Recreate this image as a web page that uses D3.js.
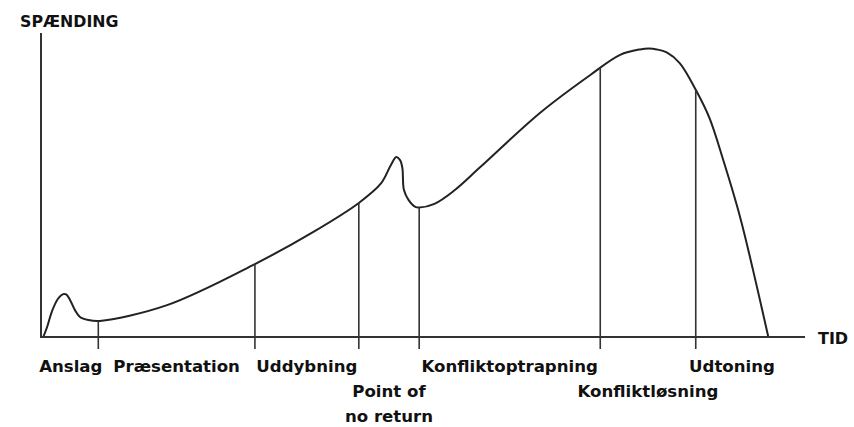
<!DOCTYPE html>
<meta charset="utf-8">
<script src="https://d3js.org/d3.v7.min.js"></script>
<style>
  body { margin: 0; background: #fff; }
  text { font-family: "DejaVu Sans", sans-serif; font-weight: bold; fill: #111; }
</style>
<div id="chart"></div>
<script>
// curve: time (0-100) and tension (0-100)
var curveTime = [0.3, 0.8, 1.4, 2.2, 2.9, 3.3, 3.8, 4.5, 5.1, 6.2, 7.7, 16.5, 28.0, 35.6, 41.6, 44.5, 45.8, 46.5, 47.0, 47.3, 47.5, 48.1, 49.0, 49.5, 51.5, 54.0, 57.5, 65.3, 71.9, 75.8, 78.4, 79.6, 80.6, 81.9, 83.6, 85.7, 87.5, 89.3, 91.5, 93.2, 95.2];
var curveTension = [0, 3.3, 8.2, 12.5, 14.1, 14.0, 12.2, 8.6, 6.6, 5.6, 5.3, 10.5, 24.0, 34.5, 44.1, 50.5, 56.6, 59.2, 58.2, 55.6, 48.4, 45.1, 42.8, 42.6, 43.8, 48.0, 55.9, 73.7, 86.2, 92.8, 94.6, 94.9, 94.6, 93.6, 90.1, 81.3, 72.0, 58.2, 39.5, 22.0, 0];

// phase boundaries (time) - first and last are start and end of the curve
var bounds = [0.3, 7.5, 28.0, 41.6, 49.5, 73.2, 85.7, 95.2];
var phases = ["Anslag", "Præsentation", "Uddybning", "Point of\nno return", "Konfliktoptrapning", "Konfliktløsning", "Udtoning"];
var yLabel = "SPÆNDING";
var xLabel = "TID";

var W = 854, H = 427;
var x0 = 41, x1 = 805, yTop = 33, yAxis = 337;

var svg = d3.select("#chart").append("svg")
  .attr("width", W)
  .attr("height", H);

var x = d3.scaleLinear().domain([0, 100]).range([x0, x1]);
var y = d3.scaleLinear().domain([0, 100]).range([yAxis, yTop]);

var pts = curveTime.map(function(t, i) { return [t, curveTension[i]]; });

var line = d3.line()
  .x(function(d) { return x(d[0]); })
  .y(function(d) { return y(d[1]); })
  .curve(d3.curveCatmullRom.alpha(0.5));

var path = svg.append("path")
  .datum(pts)
  .attr("d", line)
  .attr("fill", "none")
  .attr("stroke", "#222")
  .attr("stroke-width", 2);

// find the curve's y at a given pixel x
function curveY(px) {
  var node = path.node(), len = node.getTotalLength();
  var lo = 0, hi = len;
  for (var k = 0; k < 40; k++) {
    var mid = (lo + hi) / 2;
    if (node.getPointAtLength(mid).x < px) lo = mid; else hi = mid;
  }
  return node.getPointAtLength((lo + hi) / 2).y;
}

// axes
svg.append("line")
  .attr("x1", x(0)).attr("x2", x(0))
  .attr("y1", y(100)).attr("y2", y(0) + 1)
  .attr("stroke", "#333").attr("stroke-width", 2);
svg.append("line")
  .attr("x1", x(0)).attr("x2", x(100))
  .attr("y1", y(0)).attr("y2", y(0))
  .attr("stroke", "#333").attr("stroke-width", 2);

// phase divider lines
bounds.slice(1, -1).forEach(function(b) {
  var px = x(b);
  svg.append("line")
    .attr("x1", px).attr("x2", px)
    .attr("y1", curveY(px)).attr("y2", y(0) + 12)
    .attr("stroke", "#333").attr("stroke-width", 1.6);
});

// phase labels, centred between boundaries; some drop a row
var drop = {3: 1, 5: 1};
phases.forEach(function(name, i) {
  var cx = x((bounds[i] + bounds[i + 1]) / 2);
  var row = drop[i] || 0;
  var t = svg.append("text")
    .attr("text-anchor", "middle")
    .attr("font-size", 16.6);
  name.split("\n").forEach(function(part, j) {
    t.append("tspan")
      .attr("x", cx)
      .attr("y", y(0) + 35 + (row + j) * 25)
      .text(part);
  });
});

svg.append("text")
  .attr("x", 20).attr("y", 27)
  .attr("font-size", 15.8)
  .text(yLabel);

svg.append("text")
  .attr("x", x(100) + 13).attr("y", y(0) + 7)
  .attr("font-size", 16)
  .text(xLabel);
</script>
